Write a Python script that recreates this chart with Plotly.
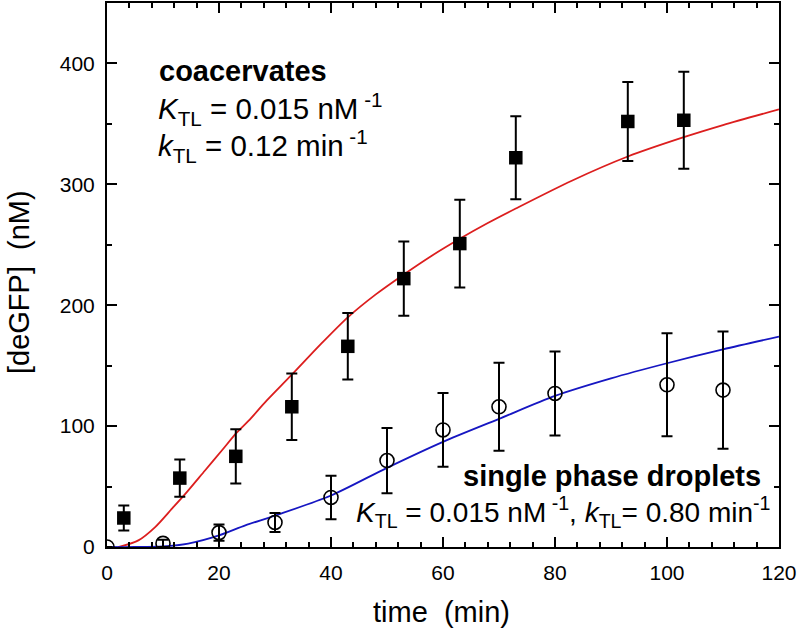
import plotly.graph_objects as go

# --- data ---
t_coac = [3, 13, 23, 33, 43, 53, 63, 73, 93, 103]
v_coac = [24, 57, 75, 116, 166, 222, 251, 322, 352, 353]
e_coac = [10.3, 15.4, 22.5, 27.5, 27.5, 30.7, 36.3, 34.4, 32.6, 40.2]

t_single = [0, 10, 20, 30, 40, 50, 60, 70, 80, 100, 110]
v_single = [0, 3, 11.9, 20.3, 41, 71.5, 96.8, 116, 127, 134.2, 129.8]
e_single = [None, 3, 6.8, 7.8, 18, 27, 30.5, 36.4, 34.8, 42.6, 48.5]

t_fit_coac = [2, 5.6, 8.6, 11.6, 13.9, 17.5, 20.5, 23.2, 25.3, 28.5, 33, 38, 43,
              48, 53, 58, 63, 68, 73, 83, 93, 103, 110, 120]
v_fit_coac = [0, 5.5, 16.5, 31.7, 43.5, 63.3, 79.8, 94.8, 104.5, 121, 142.5, 167, 190,
              209, 225.5, 241, 255, 268, 280, 303, 323, 339, 349, 362]

t_fit_single = [0, 5, 10, 14.5, 20, 24.7, 30, 40, 50, 60, 70, 80, 90, 100, 110, 120]
v_fit_single = [0, 0, 0.5, 2.8, 9.6, 17.9, 26, 42.6, 65.5, 87, 106, 125, 139.5, 152, 163.5, 174]

x_ticks = [0, 20, 40, 60, 80, 100, 120]
y_ticks = [0, 100, 200, 300, 400]

FONT = "Liberation Sans, Arial, sans-serif"

fig = go.Figure()

fig.add_trace(go.Scatter(
    x=t_fit_coac, y=v_fit_coac, mode="lines",
    line=dict(color="#dc1e1e", width=1.8, shape="spline", smoothing=0.8),
    showlegend=False, hoverinfo="skip"))
fig.add_trace(go.Scatter(
    x=t_fit_single, y=v_fit_single, mode="lines",
    line=dict(color="#1616c2", width=1.8, shape="spline", smoothing=0.8),
    showlegend=False, hoverinfo="skip"))

fig.add_trace(go.Scatter(
    x=t_coac, y=v_coac, mode="markers",
    marker=dict(symbol="square", size=13.5, color="black"),
    error_y=dict(type="data", array=e_coac, visible=True, color="black",
                 thickness=2, width=5.5),
    showlegend=False))
fig.add_trace(go.Scatter(
    x=t_single, y=v_single, mode="markers",
    marker=dict(symbol="circle-open", size=14, color="black",
                line=dict(color="black", width=1.6)),
    error_y=dict(type="data", array=e_single, visible=True, color="black",
                 thickness=2, width=5.5),
    showlegend=False))

axis_common = dict(
    showline=True, linecolor="black", linewidth=2, mirror="allticks",
    ticks="inside", ticklen=10, tickwidth=2, tickcolor="black",
    showgrid=False, zeroline=False,
    tickfont=dict(family=FONT, size=21, color="black"),
)

fig.update_xaxes(range=[0, 120], tickvals=x_ticks, ticklabelstandoff=6,
                 minor=dict(dtick=4, ticks="inside", ticklen=5, tickwidth=2,
                            tickcolor="black", showgrid=False),
                 **axis_common)
fig.update_yaxes(range=[0, 450], tickvals=y_ticks, ticklabelstandoff=6,
                 minor=dict(dtick=50, ticks="inside", ticklen=5, tickwidth=2,
                            tickcolor="black", showgrid=False),
                 **axis_common)

ann = []
ann.append(dict(x=8.9, y=394, xref="x", yref="y", xanchor="left", yanchor="middle",
                text="<b>coacervates</b>", showarrow=False,
                font=dict(family=FONT, size=29, color="black")))
ann.append(dict(x=8.7, y=362, xref="x", yref="y", xanchor="left", yanchor="middle",
                text="<i>K</i><sub>TL</sub> = 0.015 nM<sup> -1</sup>", showarrow=False,
                font=dict(family=FONT, size=29.5, color="black")))
ann.append(dict(x=8.7, y=332, xref="x", yref="y", xanchor="left", yanchor="middle",
                text="<i>k</i><sub>TL</sub> = 0.12 min<sup> -1</sup>", showarrow=False,
                font=dict(family=FONT, size=29.5, color="black")))
ann.append(dict(x=117.1, y=59, xref="x", yref="y", xanchor="right", yanchor="middle",
                text="<b>single phase droplets</b>", showarrow=False,
                font=dict(family=FONT, size=29, color="black")))
ann.append(dict(x=118.9, y=29, xref="x", yref="y", xanchor="right", yanchor="middle",
                text="<i>K</i><sub>TL</sub> = 0.015 nM<sup> -1</sup>, <i>k</i><sub>TL</sub>= 0.80 min<sup>-1</sup>",
                showarrow=False,
                font=dict(family=FONT, size=28, color="black")))
# axis titles
ann.append(dict(x=0.4985, y=-0.119, xref="paper", yref="paper", xanchor="center", yanchor="middle",
                text="time\u00a0 (min)", showarrow=False,
                font=dict(family=FONT, size=29, color="black")))
ann.append(dict(x=-0.131, y=0.487, xref="paper", yref="paper", xanchor="center", yanchor="middle",
                text="[deGFP]\u00a0 (nM)", textangle=-90, showarrow=False,
                font=dict(family=FONT, size=29, color="black")))

fig.update_layout(
    width=799, height=636,
    margin=dict(l=107, r=20, t=1, b=89),
    paper_bgcolor="white", plot_bgcolor="white",
    annotations=ann,
    showlegend=False,
)

fig.write_html("out.html", config={"displayModeBar": False},
               post_script="document.body.style.margin='0';document.body.style.overflow='hidden';")
